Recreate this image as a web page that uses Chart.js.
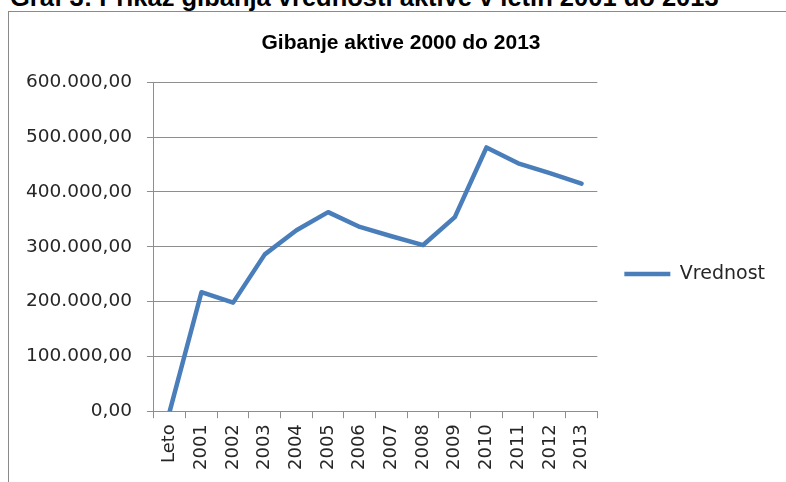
<!DOCTYPE html>
<html>
<head>
<meta charset="utf-8">
<script src="https://cdn.jsdelivr.net/npm/chart.js@4.4.1/dist/chart.umd.min.js"></script>
<style>
  html, body { margin: 0; padding: 0; background: #ffffff; overflow: hidden; }
  #wrap { position: relative; width: 786px; height: 482px; overflow: hidden; }
  #caption { position: absolute; left: 10px; top: -15px; font: bold 25.5px/25.5px "Liberation Sans", Arial, sans-serif; color: #000; white-space: nowrap; }
  #frame { position: absolute; left: 8px; top: 11px; width: 900px; height: 600px; border-left: 1px solid #8a8a8a; border-top: 1px solid #8a8a8a; }
  canvas { position: absolute; left: 0; top: 0; }
</style>
</head>
<body>
<div id="wrap">
  <div id="caption">Graf 3: Prikaz gibanja vrednosti aktive v letih 2001 do 2013</div>
  <div id="frame"></div>
  <canvas id="c" width="786" height="482"></canvas>
</div>
<script>
const chartTitle = "Gibanje aktive 2000 do 2013";
const categories = ["Leto", "2001", "2002", "2003", "2004", "2005", "2006", "2007", "2008", "2009", "2010", "2011", "2012", "2013"];
const seriesName = "Vrednost";
const seriesValues = [0, 217000, 198000, 286000, 330000, 363000, 336000, 319000, 303000, 354000, 481000, 452000, 434000, 415000];
const yMin = 0;
const yMax = 600000;
const yStep = 100000;

function formatSl(v) {
  const s = Math.round(v).toString();
  const grouped = s.replace(/\B(?=(\d{3})+(?!\d))/g, ".");
  return grouped + ",00";
}

const lineColor = "#4a7ebb";
const gridColor = "#8e8e8e";
const textColor = "#262626";
const yFont = { family: "'DejaVu Sans', sans-serif", size: 18.5 };
const xFont = { family: "'DejaVu Sans', sans-serif", size: 18 };
const legendFont = { family: "'DejaVu Sans', sans-serif", size: 19 };

// Nudge title and legend boxes to the reference's placement.
const placementPlugin = {
  id: "placement",
  afterLayout(chart) {
    const t = chart.titleBlock;
    if (t) { t.left += 8; t.right += 8; }
    const l = chart.legend;
    if (l) { l.top += 36; l.bottom += 36; }
  }
};

new Chart(document.getElementById("c"), {
  type: "line",
  data: {
    labels: categories,
    datasets: [{
      label: seriesName,
      data: seriesValues,
      borderColor: lineColor,
      backgroundColor: lineColor,
      borderWidth: 4.5,
      pointRadius: 0,
      pointHoverRadius: 0,
      tension: 0,
      borderJoinStyle: "round",
      borderCapStyle: "round",
      pointStyle: "line"
    }]
  },
  plugins: [placementPlugin],
  options: {
    responsive: false,
    animation: false,
    events: [],
    layout: { padding: { left: 11, right: 11, top: 0, bottom: 6 } },
    plugins: {
      tooltip: { enabled: false },
      title: {
        display: true,
        text: chartTitle,
        color: "#000",
        font: { family: "'Liberation Sans', Arial, sans-serif", size: 21, weight: "bold" },
        padding: { top: 31, bottom: 26 }
      },
      legend: {
        display: true,
        position: "right",
        align: "center",
        labels: {
          usePointStyle: true,
          pointStyleWidth: 46,
          boxHeight: 19,
          padding: 27,
          color: textColor,
          font: legendFont
        }
      }
    },
    scales: {
      x: {
        type: "category",
        offset: true,
        grid: {
          offset: true,
          drawOnChartArea: false,
          drawTicks: true,
          tickLength: 7,
          color: gridColor,
          lineWidth: 1
        },
        border: { display: true, color: gridColor, width: 1 },
        ticks: {
          color: textColor,
          font: xFont,
          minRotation: 90,
          maxRotation: 90,
          autoSkip: false,
          padding: 6
        }
      },
      y: {
        min: yMin,
        max: yMax,
        grid: {
          color: gridColor,
          lineWidth: 1,
          drawTicks: true,
          tickLength: 7
        },
        border: { display: true, color: gridColor, width: 1 },
        ticks: {
          stepSize: yStep,
          color: textColor,
          font: yFont,
          padding: 15,
          callback: (v) => formatSl(v)
        }
      }
    }
  }
});
</script>
</body>
</html>
